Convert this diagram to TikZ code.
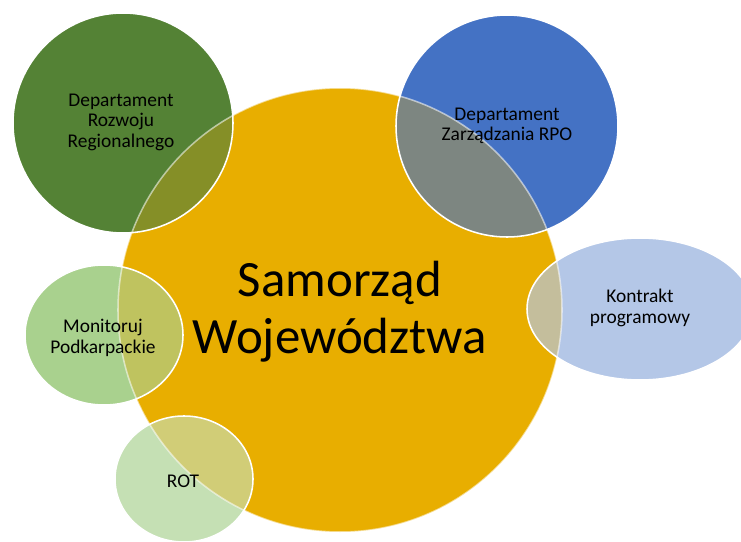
\documentclass[tikz,border=0pt]{standalone}
\usepackage{fontspec}
\setmainfont{Carlito}
\usepackage{xcolor}
\definecolor{gold}{HTML}{E8AE00}
\definecolor{drr}{HTML}{548235}
\definecolor{drrov}{HTML}{858F27}
\definecolor{rpo}{HTML}{4472C4}
\definecolor{rpoov}{HTML}{7D8681}
\definecolor{kp}{HTML}{B4C7E7}
\definecolor{kpov}{HTML}{C4BE9C}
\definecolor{mp}{HTML}{A9D18E}
\definecolor{mpov}{HTML}{BFC35F}
\definecolor{rt}{HTML}{C5E0B4}
\definecolor{rtov}{HTML}{D1CD77}

\begin{document}
\begin{tikzpicture}[x=0.025cm,y=0.025cm,
  every node/.style={font=\fontsize{13.8}{14.6}\selectfont,align=center,text=black},
  big/.style={font=\fontsize{36.2}{40.5}\selectfont},
  rim/.style={draw=white,line width=1.1pt}
]
\clip (0,0) rectangle (741,541);
\fill[gold] (340,231) circle[radius=222];
\foreach \cx/\cy/\rx/\ry/\fc/\oc in {123/418/110/110/drr/drrov,507/415/111/111/rpo/rpoov,
  640/232/113/71/kp/kpov,104/206/79/70/mp/mpov,184/62/69/63/rt/rtov}
{
  \fill[\fc] (\cx,\cy) ellipse[x radius=\rx,y radius=\ry];
  \begin{scope}
    \clip (340,231) circle[radius=222];
    \fill[\oc] (\cx,\cy) ellipse[x radius=\rx,y radius=\ry];
  \end{scope}
}
\draw[rim,draw opacity=0.55] (340,231) circle[radius=222];
\foreach \cx/\cy/\rx/\ry in {123/418/110/110,507/415/111/111,640/232/113/71,104/206/79/70,184/62/69/63}
  \draw[rim] (\cx,\cy) ellipse[x radius=\rx,y radius=\ry];
\node[big] (samorzad) at (340,229) {Samorząd\\Województwa};
\node (drrtxt) at (121,419) {Departament\\Rozwoju\\Regionalnego};
\node (rpotxt) at (507,415) {Departament\\Zarządzania RPO};
\node (kptxt) at (640,233) {Kontrakt\\programowy};
\node (mptxt) at (103,203) {Monitoruj\\Podkarpackie};
\node (rttxt) at (183,60) {ROT};
\end{tikzpicture}
\end{document}
